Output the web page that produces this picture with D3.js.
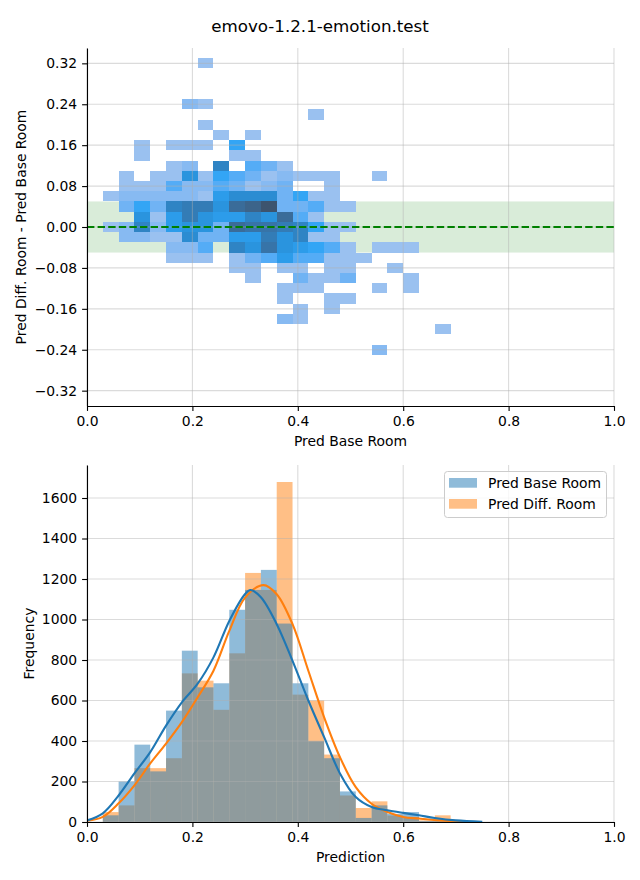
<!DOCTYPE html>
<html><head><meta charset="utf-8">
<script src="https://cdn.jsdelivr.net/npm/d3@7"></script>
<style>body{margin:0;background:#fff} svg{display:block} text{font-family:"DejaVu Sans",sans-serif;fill:#000}</style>
</head><body><svg id="c" width="640" height="880"></svg>
<script>
// ---------------- DATA ----------------
const chartTitle = "emovo-1.2.1-emotion.test";
// 2D histogram: bin width (x) and height (y)
const heatBinW = 0.03, heatBinH = 0.02;
// cells: [x bin left edge, y bin centre, count]
const heatCells = [
 [0.21,0.32,1],
 [0.18,0.24,2],[0.21,0.24,1],
 [0.42,0.22,1],
 [0.21,0.20,1],
 [0.24,0.18,1],[0.30,0.18,1],
 [0.09,0.16,1],[0.15,0.16,1],[0.18,0.16,1],[0.21,0.16,1],[0.27,0.16,5],
 [0.09,0.14,1],[0.27,0.14,1],[0.30,0.14,1],
 [0.15,0.12,1],[0.18,0.12,2],[0.24,0.12,9],[0.30,0.12,4],[0.33,0.12,3],[0.36,0.12,1],
 [0.06,0.10,1],[0.12,0.10,1],[0.15,0.10,1],[0.18,0.10,7],[0.21,0.10,1],[0.24,0.10,5],[0.27,0.10,4],[0.30,0.10,3],[0.33,0.10,1],[0.36,0.10,2],[0.39,0.10,1],[0.42,0.10,1],[0.45,0.10,1],[0.54,0.10,1],
 [0.06,0.08,1],[0.09,0.08,1],[0.12,0.08,1],[0.15,0.08,4],[0.18,0.08,2],[0.21,0.08,2],[0.24,0.08,4],[0.27,0.08,3],[0.30,0.08,1],[0.33,0.08,2],[0.36,0.08,3],[0.45,0.08,1],
 [0.03,0.06,1],[0.06,0.06,2],[0.09,0.06,2],[0.12,0.06,2],[0.15,0.06,2],[0.18,0.06,2],[0.21,0.06,1],[0.24,0.06,6],[0.27,0.06,8],[0.30,0.06,8],[0.33,0.06,8],[0.36,0.06,3],[0.39,0.06,5],[0.42,0.06,1],[0.45,0.06,1],
 [0.06,0.04,3],[0.09,0.04,5],[0.12,0.04,3],[0.15,0.04,9],[0.18,0.04,10],[0.21,0.04,10],[0.24,0.04,7],[0.27,0.04,12],[0.30,0.04,13],[0.33,0.04,15],[0.36,0.04,3],[0.39,0.04,3],[0.42,0.04,4],[0.45,0.04,1],[0.48,0.04,1],
 [0.09,0.02,7],[0.12,0.02,1],[0.15,0.02,6],[0.18,0.02,10],[0.21,0.02,7],[0.24,0.02,6],[0.27,0.02,6],[0.30,0.02,9],[0.33,0.02,7],[0.36,0.02,12],[0.39,0.02,4],[0.42,0.02,1],
 [0.03,0.00,1],[0.06,0.00,2],[0.09,0.00,9],[0.12,0.00,2],[0.15,0.00,6],[0.18,0.00,7],[0.21,0.00,7],[0.24,0.00,3],[0.27,0.00,12],[0.30,0.00,11],[0.33,0.00,11],[0.36,0.00,10],[0.39,0.00,9],[0.42,0.00,5],[0.45,0.00,1],[0.48,0.00,1],
 [0.06,-0.02,2],[0.09,-0.02,2],[0.12,-0.02,1],[0.15,-0.02,1],[0.18,-0.02,8],[0.21,-0.02,3],[0.24,-0.02,3],[0.27,-0.02,6],[0.30,-0.02,6],[0.33,-0.02,10],[0.36,-0.02,7],[0.39,-0.02,9],[0.42,-0.02,1],[0.45,-0.02,1],
 [0.15,-0.04,2],[0.18,-0.04,2],[0.21,-0.04,4],[0.27,-0.04,9],[0.30,-0.04,7],[0.33,-0.04,11],[0.36,-0.04,7],[0.39,-0.04,6],[0.42,-0.04,5],[0.45,-0.04,4],[0.48,-0.04,1],[0.54,-0.04,1],[0.57,-0.04,1],[0.60,-0.04,1],
 [0.15,-0.06,1],[0.18,-0.06,1],[0.21,-0.06,1],[0.27,-0.06,1],[0.30,-0.06,3],[0.33,-0.06,4],[0.36,-0.06,6],[0.39,-0.06,4],[0.42,-0.06,4],[0.45,-0.06,1],[0.48,-0.06,1],[0.51,-0.06,1],
 [0.27,-0.08,1],[0.30,-0.08,1],[0.36,-0.08,1],[0.39,-0.08,1],[0.45,-0.08,1],[0.48,-0.08,1],[0.57,-0.08,1],
 [0.30,-0.10,1],[0.39,-0.10,3],[0.42,-0.10,1],[0.45,-0.10,1],[0.48,-0.10,3],[0.60,-0.10,1],
 [0.36,-0.12,1],[0.39,-0.12,1],[0.42,-0.12,1],[0.54,-0.12,1],[0.60,-0.12,1],
 [0.36,-0.14,1],[0.45,-0.14,1],[0.48,-0.14,1],
 [0.39,-0.16,1],[0.45,-0.16,1],
 [0.36,-0.18,2],[0.39,-0.18,1],
 [0.66,-0.20,1],
 [0.54,-0.24,2]
];
const bandHalfWidth = 0.05;
const topXTicks = [0, 0.2, 0.4, 0.6, 0.8, 1.0];
const topYTicks = [-0.32, -0.24, -0.16, -0.08, 0, 0.08, 0.16, 0.24, 0.32];

// 1D histogram
const histBinW = 0.03;
const histBinStart = [0.03,0.06,0.09,0.12,0.15,0.18,0.21,0.24,0.27,0.30,0.33,0.36,0.39,0.42,0.45,0.48,0.51,0.54,0.57,0.60,0.63,0.66,0.69,0.72];
const baseCounts = [33,200,382,250,550,846,665,685,1048,1146,1245,980,685,399,315,151,20,82,40,49,5,12,4,2];
const diffCounts = [49,82,266,266,315,734,698,554,833,1230,1146,1679,629,600,333,131,69,102,32,25,8,33,2,0];
const baseKdeX = [0,0.03,0.06,0.09,0.12,0.15,0.18,0.21,0.24,0.27,0.30,0.31,0.33,0.36,0.39,0.42,0.45,0.48,0.51,0.54,0.57,0.60,0.63,0.66,0.70,0.75];
const baseKdeY = [8,43,131,240,345,476,591,683,813,993,1126,1146,1110,977,796,600,419,240,123,74,58,45,33,20,8,1];
const diffKdeX = [0,0.03,0.06,0.09,0.12,0.15,0.18,0.21,0.24,0.27,0.30,0.335,0.36,0.39,0.42,0.45,0.48,0.51,0.54,0.57,0.60,0.63,0.67,0.72];
const diffKdeY = [6,25,92,181,289,387,493,616,747,944,1108,1170,1125,977,747,517,320,172,90,49,25,17,8,1];
const seriesNames = ["Pred Base Room", "Pred Diff. Room"];
const botXTicks = [0, 0.2, 0.4, 0.6, 0.8, 1.0];
const botYTicks = [0,200,400,600,800,1000,1200,1400,1600];

// ---------------- HUSL colormap (seaborn style) ----------------
const M=[[3.240969941904521,-1.537383177570093,-0.498610760293],[-0.96924363628087,1.87596750150772,0.041555057407175],[0.055630079696993,-0.20397695888897,1.056971514242878]];
const MI=[[0.41239079926595,0.35758433938387,0.18048078840183],[0.21263900587151,0.71516867876775,0.072192315360733],[0.019330818715591,0.11919477979462,0.95053215224966]];
const refU=0.19783000664283, refV=0.46831999493879, kappa=903.2962962, eps=0.0088564516;
function bounds(L){const s1=Math.pow(L+16,3)/1560896; const s2=s1>eps?s1:L/kappa; const r=[]; for(const [m1,m2,m3] of M){for(const t of [0,1]){const top1=(284517*m1-94839*m3)*s2; const top2=(838422*m3+769860*m2+731718*m1)*L*s2-769860*t*L; const bot=(632260*m3-126452*m2)*s2+126452*t; r.push([top1/bot, top2/bot]);}} return r;}
function maxC(L,H){const h=H/180*Math.PI; let mn=Infinity; for(const [m,b] of bounds(L)){const len=b/(Math.sin(h)-m*Math.cos(h)); if(len>=0) mn=Math.min(mn,len);} return mn;}
function huslToRgb(H,S,L){ if(L>99.9999999) return [1,1,1]; if(L<1e-8) return [0,0,0]; const C=maxC(L,H)/100*S; const h=H/180*Math.PI; const U=Math.cos(h)*C, V=Math.sin(h)*C; const Y = L<=8? L/kappa : Math.pow((L+16)/116,3); const vU=U/(13*L)+refU, vV=V/(13*L)+refV; const X=0-(9*Y*vU)/((vU-4)*vV-vU*vV); const Z=(9*Y-15*vV*Y-vV*X)/(3*vV); return M.map(r=>{const c=r[0]*X+r[1]*Y+r[2]*Z; return c<=0.0031308?12.92*c:1.055*Math.pow(c,1/2.4)-0.055;}); }
function rgbToHusl(r,g,b){ const lin=[r,g,b].map(c=>c>0.04045?Math.pow((c+0.055)/1.055,2.4):c/12.92); const [X,Y,Z]=MI.map(row=>row[0]*lin[0]+row[1]*lin[1]+row[2]*lin[2]); const L = Y<=eps? Y*kappa : 116*Math.cbrt(Y)-16; const d=X+15*Y+3*Z; const vU=4*X/d, vV=9*Y/d; const U=13*L*(vU-refU), V=13*L*(vV-refV); const C=Math.hypot(U,V); let H=Math.atan2(V,U)*180/Math.PI; if(H<0)H+=360; return [H, C/maxC(L,H)*100, L]; }
const base = d3.rgb("#1f77b4");
const [bh, bs] = rgbToHusl(base.r/255, base.g/255, base.b/255);
const cmap = d3.range(256).map(k=>{ const m=255-k; const xx=-1+2*m/293; const L=35+45*m/255; const rgb=huslToRgb(bh, bs*Math.cos(xx), L).map(c=>Math.max(0,Math.min(1,c))); return d3.rgb(rgb[0]*255, rgb[1]*255, rgb[2]*255).formatHex();});
const vmax = d3.max(heatCells, d=>d[2]);
const colorOf = n => cmap[Math.min(255, Math.floor(n/vmax*256))];

// ---------------- DRAW ----------------
const svg = d3.select("#c");
const FS = 13.9;
const minus = s => s.replace("-", "\u2212");
const gridCol = "#b0b0b0", gridOp = 0.45;

svg.append("text").attr("x",320).attr("y",32).attr("text-anchor","middle").style("font-size","16.7px").text(chartTitle);

function drawAxes(x, y, xTicks, yTicks, xFmt, yFmt, xLabel, yLabel, yLabelX) {
  const [x0,x1] = x.range(), [y0,y1] = y.range();
  const ax = svg.append("g").attr("transform",`translate(0,${y0})`)
    .call(d3.axisBottom(x).tickValues(xTicks).tickFormat(xFmt).tickSize(4.9).tickPadding(4.9).tickSizeOuter(0));
  const ay = svg.append("g").attr("transform",`translate(${x0},0)`)
    .call(d3.axisLeft(y).tickValues(yTicks).tickFormat(yFmt).tickSize(4.9).tickPadding(4.9).tickSizeOuter(0));
  [ax, ay].forEach(g=>{ g.selectAll("text").style("font-size",FS+"px").style("font-family","DejaVu Sans");
     g.selectAll("line").attr("stroke","#000").attr("stroke-width",1.1);
     g.select(".domain").attr("stroke","#000").attr("stroke-width",1.1); });
  svg.append("text").attr("x",(x0+x1)/2).attr("y",y0+40).attr("text-anchor","middle").style("font-size",FS+"px").text(xLabel);
  svg.append("text").attr("transform",`translate(${yLabelX},${(y0+y1)/2}) rotate(-90)`).attr("text-anchor","middle").style("font-size",FS+"px").text(yLabel);
}
function drawGrid(x, y, xTicks, yTicks) {
  const g = svg.append("g").attr("stroke",gridCol).attr("stroke-opacity",gridOp).attr("stroke-width",1.1);
  const [x0,x1] = x.range(), [y0,y1] = y.range();
  xTicks.forEach(t=>g.append("line").attr("x1",x(t)).attr("x2",x(t)).attr("y1",y0).attr("y2",y1));
  yTicks.forEach(t=>g.append("line").attr("x1",x0).attr("x2",x1).attr("y1",y(t)).attr("y2",y(t)));
}

// ---- top plot ----
const xT = d3.scaleLinear([0,1],[87,614]);
const yT = d3.scaleLinear([-0.35,0.35],[406,48]);
svg.append("rect").attr("x",xT(0)).attr("width",xT(1)-xT(0)).attr("y",yT(bandHalfWidth)).attr("height",yT(-bandHalfWidth)-yT(bandHalfWidth))
  .attr("fill","green").attr("fill-opacity",0.15);
svg.append("g").selectAll("rect").data(heatCells).join("rect")
  .attr("x",d=>xT(d[0])).attr("width",d=>xT(d[0]+heatBinW)-xT(d[0]))
  .attr("y",d=>yT(d[1]+heatBinH/2)).attr("height",d=>yT(d[1]-heatBinH/2)-yT(d[1]+heatBinH/2))
  .attr("fill",d=>colorOf(d[2])).attr("shape-rendering","crispEdges");
drawGrid(xT, yT, topXTicks, topYTicks);
svg.append("line").attr("x1",xT(0)).attr("x2",xT(1)).attr("y1",yT(0)).attr("y2",yT(0))
  .attr("stroke","green").attr("stroke-width",2).attr("stroke-dasharray","7.4,3.2");
drawAxes(xT, yT, topXTicks, topYTicks, d3.format(".1f"), d=>minus(d3.format(".2f")(d)), "Pred Base Room", "Pred Diff. Room - Pred Base Room", 26);

// ---- bottom plot ----
const xB = d3.scaleLinear([0,1],[87,614]);
const yB = d3.scaleLinear([0,1763],[822,465]);
const colors = ["#1f77b4", "#ff7f0e"];
const drawBars = (counts, col) => svg.append("g").selectAll("rect").data(histBinStart.map((s,i)=>[s,counts[i]]).filter(d=>d[1]>0)).join("rect")
  .attr("x",d=>xB(d[0])).attr("width",d=>xB(d[0]+histBinW)-xB(d[0]))
  .attr("y",d=>yB(d[1])).attr("height",d=>yB(0)-yB(d[1]))
  .attr("fill",col).attr("fill-opacity",0.5);
drawBars(diffCounts, colors[1]);
drawBars(baseCounts, colors[0]);
drawGrid(xB, yB, botXTicks, botYTicks);
svg.append("clipPath").attr("id","clipB").append("rect").attr("x",87).attr("y",465).attr("width",527).attr("height",357);
const line = d3.line().x(d=>xB(d[0])).y(d=>yB(d[1])).curve(d3.curveCatmullRom.alpha(0.5));
svg.append("path").attr("d",line(diffKdeX.map((v,i)=>[v,diffKdeY[i]]))).attr("fill","none").attr("stroke",colors[1]).attr("stroke-width",2.1).attr("clip-path","url(#clipB)");
svg.append("path").attr("d",line(baseKdeX.map((v,i)=>[v,baseKdeY[i]]))).attr("fill","none").attr("stroke",colors[0]).attr("stroke-width",2.1).attr("clip-path","url(#clipB)");
drawAxes(xB, yB, botXTicks, botYTicks, d3.format(".1f"), d3.format("d"), "Prediction", "Frequency", 34);

// legend
const lg = svg.append("g");
lg.append("rect").attr("x",444.5).attr("y",471.5).attr("width",162).attr("height",46).attr("rx",3)
  .attr("fill","#fff").attr("fill-opacity",0.8).attr("stroke","#cccccc");
seriesNames.forEach((n,i)=>{
  lg.append("rect").attr("x",449).attr("y",478+i*21).attr("width",28).attr("height",9.7).attr("fill",colors[i]).attr("fill-opacity",0.5);
  lg.append("text").attr("x",488).attr("y",488+i*21).style("font-size",FS+"px").text(n);
});
</script></body></html>
